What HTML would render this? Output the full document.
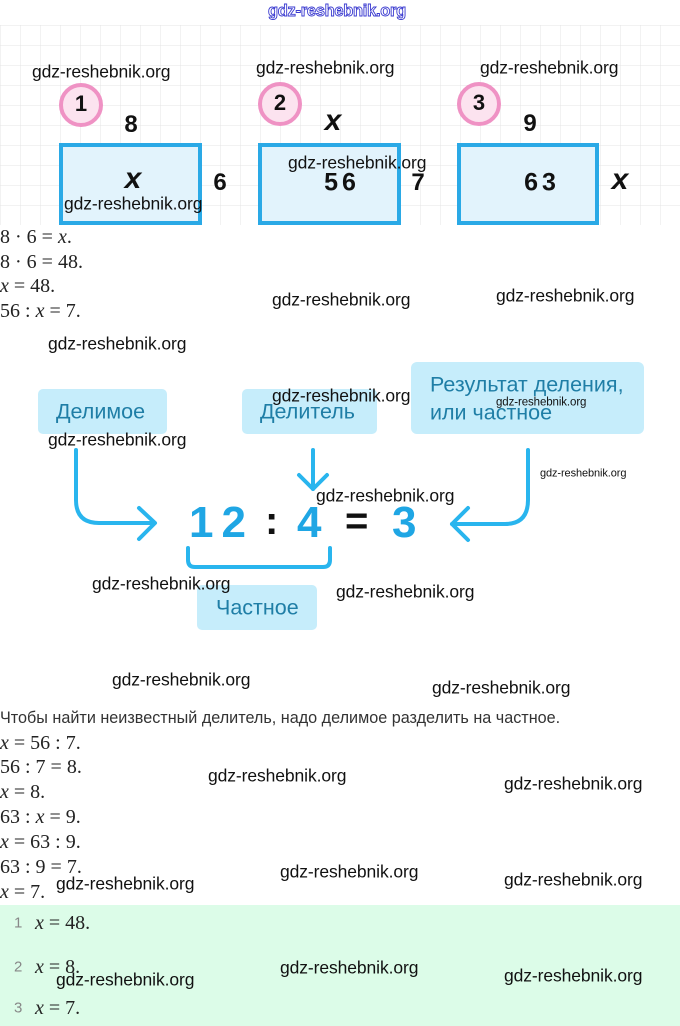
<!DOCTYPE html>
<html><head><meta charset="utf-8">
<style>
html,body{margin:0;padding:0;background:#fff;}
body{width:680px;height:1026px;position:relative;overflow:hidden;font-family:"Liberation Sans",sans-serif;}
.a{position:absolute;white-space:nowrap;line-height:1;}
.wm{font-family:"Liberation Sans",sans-serif;font-size:17.5px;color:#111;transform:translateY(-50%);letter-spacing:-0.1px;}
.m{font-family:"Liberation Serif",serif;font-size:20px;color:#222;transform:translateY(-50%);}
.m i{font-style:italic;}
.n{font-family:"Liberation Sans",sans-serif;font-weight:bold;color:#111;transform:translate(-50%,-50%);}
.lbl{font-family:"Liberation Sans",sans-serif;font-size:21.5px;color:#1f7ea6;transform:translateY(-50%);}
</style></head><body>
<svg width="680" height="1026" style="position:absolute;left:0;top:0">
  <defs>
    <pattern id="g" x="0.5" y="5.5" width="20" height="20" patternUnits="userSpaceOnUse">
      <path d="M20 0 V20 M0 20 H20" fill="none" stroke="#e4e4e4" stroke-width="1"/>
    </pattern>
  </defs>
  <rect x="0" y="25" width="680" height="200" fill="url(#g)"/>
  <!-- boxes -->
  <rect x="61" y="145" width="139" height="78" fill="#e2f3fc" stroke="#2aa9e6" stroke-width="4"/>
  <rect x="260" y="145" width="139" height="78" fill="#e2f3fc" stroke="#2aa9e6" stroke-width="4"/>
  <rect x="459" y="145" width="138" height="78" fill="#e2f3fc" stroke="#2aa9e6" stroke-width="4"/>
  <!-- circles -->
  <circle cx="81" cy="105" r="20" fill="#fce3ef" stroke="#ef92c4" stroke-width="4"/>
  <circle cx="280" cy="104" r="20" fill="#fce3ef" stroke="#ef92c4" stroke-width="4"/>
  <circle cx="479" cy="104" r="20" fill="#fce3ef" stroke="#ef92c4" stroke-width="4"/>
  <!-- label boxes -->
  <rect x="38" y="389" width="129" height="45" rx="5" fill="#c6edfb"/>
  <rect x="242" y="389" width="135" height="45" rx="5" fill="#c6edfb"/>
  <rect x="411" y="362" width="233" height="72" rx="6" fill="#c6edfb"/>
  <rect x="197" y="585" width="120" height="45" rx="5" fill="#c6edfb"/>
  <!-- arrows -->
  <g fill="none" stroke="#29b5ee" stroke-width="4" stroke-linecap="round" stroke-linejoin="round">
    <path d="M76 450 V500 Q76 523 99 523 H154"/>
    <path d="M139 508 L155 523 L139 539"/>
    <path d="M313 450 V489"/>
    <path d="M299 475 L313 489 L327 475"/>
    <path d="M528 450 V500 Q528 524 505 524 H452"/>
    <path d="M468 508 L452 524 L468 540"/>
    <path d="M188 548 V560 Q188 567 195 567 H323 Q330 567 330 560 V548"/>
  </g>
  <!-- green area -->
  <rect x="0" y="905" width="680" height="121" fill="#dcfce8"/>
</svg>

<!-- top watermark -->
<div class="a" style="left:268px;top:3px;font-size:16.5px;color:#fff;-webkit-text-stroke:0.9px #3b3bd0;font-weight:bold;letter-spacing:-0.3px">gdz-reshebnik.org</div>

<!-- top numbers -->
<div class="a n" style="left:81px;top:104px;font-size:22px">1</div>
<div class="a n" style="left:280px;top:103px;font-size:22px">2</div>
<div class="a n" style="left:479px;top:103px;font-size:22px">3</div>
<div class="a n" style="left:131px;top:125px;font-size:24px">8</div>
<div class="a n" style="left:333px;top:121px;font-size:30px;font-style:italic">x</div>
<div class="a n" style="left:530px;top:124px;font-size:24px">9</div>
<div class="a n" style="left:133px;top:179px;font-size:30px;font-style:italic">x</div>
<div class="a n" style="left:342px;top:183px;font-size:25px;letter-spacing:4px">56</div>
<div class="a n" style="left:542px;top:183px;font-size:25px;letter-spacing:4px">63</div>
<div class="a n" style="left:220px;top:183px;font-size:24px">6</div>
<div class="a n" style="left:418px;top:183px;font-size:24px">7</div>
<div class="a n" style="left:620px;top:180px;font-size:30px;font-style:italic">x</div>

<!-- math 1 -->
<div class="a m" style="left:0;top:237px">8 · 6 = <i>x</i>.</div>
<div class="a m" style="left:0;top:262px">8 · 6 = 48.</div>
<div class="a m" style="left:0;top:286px"><i>x</i> = 48.</div>
<div class="a m" style="left:0;top:311px">56 : <i>x</i> = 7.</div>

<!-- diagram labels -->
<div class="a lbl" style="left:56px;top:412px">Делимое</div>
<div class="a lbl" style="left:260px;top:412px">Делитель</div>
<div class="a lbl" style="left:430px;top:385px">Результат деления,</div>
<div class="a lbl" style="left:430px;top:413px">или частное</div>
<div class="a lbl" style="left:216px;top:608px">Частное</div>

<!-- equation -->
<div class="a" style="left:189px;top:523px;transform:translateY(-50%);font-size:44px;font-weight:bold;color:#1fa6e4;letter-spacing:8px">12</div>
<div class="a" style="left:265px;top:521px;transform:translateY(-50%);font-size:40px;font-weight:bold;color:#111">:</div>
<div class="a" style="left:297px;top:523px;transform:translateY(-50%);font-size:44px;font-weight:bold;color:#1fa6e4">4</div>
<div class="a" style="left:345px;top:521px;transform:translateY(-50%);font-size:40px;font-weight:bold;color:#111">=</div>
<div class="a" style="left:392px;top:523px;transform:translateY(-50%);font-size:44px;font-weight:bold;color:#1fa6e4">3</div>

<!-- rule text -->
<div class="a" style="left:0;top:718px;transform:translateY(-50%);font-size:16.2px;color:#333">Чтобы найти неизвестный делитель, надо делимое разделить на частное.</div>

<!-- math 2 -->
<div class="a m" style="left:0;top:743px"><i>x</i> = 56 : 7.</div>
<div class="a m" style="left:0;top:767px">56 : 7 = 8.</div>
<div class="a m" style="left:0;top:792px"><i>x</i> = 8.</div>
<div class="a m" style="left:0;top:817px">63 : <i>x</i> = 9.</div>
<div class="a m" style="left:0;top:842px"><i>x</i> = 63 : 9.</div>
<div class="a m" style="left:0;top:867px">63 : 9 = 7.</div>
<div class="a m" style="left:0;top:892px"><i>x</i> = 7.</div>

<!-- answers -->
<div class="a" style="left:14px;top:923px;transform:translateY(-50%);font-size:15px;color:#888">1</div>
<div class="a m" style="left:35px;top:923px"><i>x</i> = 48.</div>
<div class="a" style="left:14px;top:967px;transform:translateY(-50%);font-size:15px;color:#888">2</div>
<div class="a m" style="left:35px;top:967px"><i>x</i> = 8.</div>
<div class="a" style="left:14px;top:1008px;transform:translateY(-50%);font-size:15px;color:#888">3</div>
<div class="a m" style="left:35px;top:1008px"><i>x</i> = 7.</div>

<!-- watermarks -->
<div class="a wm" style="left:32px;top:72px">gdz-reshebnik.org</div>
<div class="a wm" style="left:256px;top:68px">gdz-reshebnik.org</div>
<div class="a wm" style="left:480px;top:68px">gdz-reshebnik.org</div>
<div class="a wm" style="left:64px;top:204px">gdz-reshebnik.org</div>
<div class="a wm" style="left:288px;top:163px">gdz-reshebnik.org</div>
<div class="a wm" style="left:272px;top:300px">gdz-reshebnik.org</div>
<div class="a wm" style="left:496px;top:296px">gdz-reshebnik.org</div>
<div class="a wm" style="left:48px;top:344px">gdz-reshebnik.org</div>
<div class="a wm" style="left:272px;top:396px">gdz-reshebnik.org</div>
<div class="a wm" style="left:48px;top:440px">gdz-reshebnik.org</div>
<div class="a wm" style="left:496px;top:403px;font-size:11.5px">gdz-reshebnik.org</div>
<div class="a wm" style="left:540px;top:474px;font-size:11px">gdz-reshebnik.org</div>
<div class="a wm" style="left:316px;top:496px">gdz-reshebnik.org</div>
<div class="a wm" style="left:92px;top:584px">gdz-reshebnik.org</div>
<div class="a wm" style="left:336px;top:592px">gdz-reshebnik.org</div>
<div class="a wm" style="left:112px;top:680px">gdz-reshebnik.org</div>
<div class="a wm" style="left:432px;top:688px">gdz-reshebnik.org</div>
<div class="a wm" style="left:208px;top:776px">gdz-reshebnik.org</div>
<div class="a wm" style="left:504px;top:784px">gdz-reshebnik.org</div>
<div class="a wm" style="left:56px;top:884px">gdz-reshebnik.org</div>
<div class="a wm" style="left:280px;top:872px">gdz-reshebnik.org</div>
<div class="a wm" style="left:504px;top:880px">gdz-reshebnik.org</div>
<div class="a wm" style="left:56px;top:980px">gdz-reshebnik.org</div>
<div class="a wm" style="left:280px;top:968px">gdz-reshebnik.org</div>
<div class="a wm" style="left:504px;top:976px">gdz-reshebnik.org</div>
</body></html>
